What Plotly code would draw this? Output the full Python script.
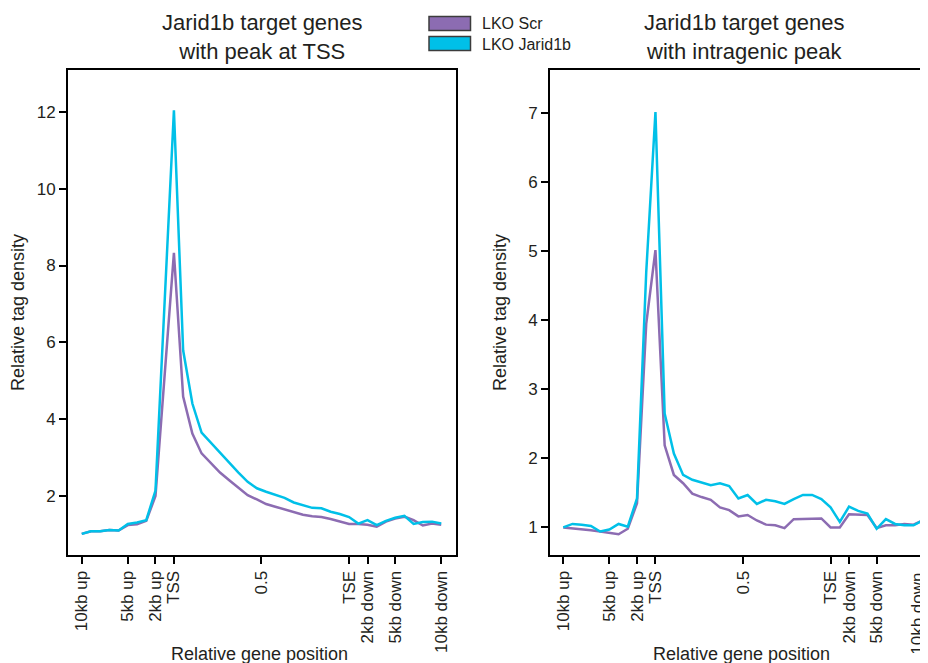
import plotly.graph_objects as go

# ---- data ----
positions = list(range(40))  # bins: 10 upstream, 20 gene body (TSS->TSE), 10 downstream
tick_pos = [0, 5, 8, 10, 19.5, 29, 31, 34, 39]
tick_text = ["10kb up", "5kb up", "2kb up", "TSS", "0.5", "TSE", "2kb down", "5kb down", "10kb down"]

left_scr = [1.00, 1.07, 1.07, 1.10, 1.09, 1.23, 1.25, 1.34, 1.99, 5.10,
            8.33, 4.58, 3.62, 3.10, 2.84, 2.60, 2.40, 2.20, 2.01, 1.90,
            1.78, 1.71, 1.64, 1.57, 1.50, 1.46, 1.44, 1.39, 1.33, 1.26,
            1.26, 1.24, 1.19, 1.32, 1.40, 1.45, 1.36, 1.22, 1.27, 1.24]
left_jarid = [1.00, 1.07, 1.07, 1.10, 1.09, 1.26, 1.30, 1.36, 2.13, 7.00,
              12.05, 5.79, 4.40, 3.64, 3.38, 3.12, 2.84, 2.60, 2.36, 2.19,
              2.10, 2.01, 1.94, 1.82, 1.74, 1.68, 1.67, 1.58, 1.52, 1.44,
              1.27, 1.36, 1.23, 1.34, 1.42, 1.47, 1.26, 1.31, 1.32, 1.27]
right_scr = [1.00, 0.99, 0.97, 0.96, 0.94, 0.92, 0.90, 0.98, 1.35, 3.95,
             5.02, 2.19, 1.76, 1.64, 1.49, 1.44, 1.40, 1.29, 1.25, 1.16,
             1.18, 1.10, 1.04, 1.03, 0.99, 1.12, 1.12, 1.13, 1.13, 1.00,
             1.00, 1.19, 1.19, 1.18, 0.99, 1.03, 1.03, 1.05, 1.04, 1.10]
right_jarid = [1.00, 1.05, 1.04, 1.02, 0.94, 0.97, 1.05, 1.01, 1.42, 4.70,
               7.02, 2.65, 2.07, 1.76, 1.69, 1.65, 1.61, 1.64, 1.60, 1.42,
               1.47, 1.34, 1.40, 1.38, 1.34, 1.41, 1.47, 1.47, 1.41, 1.29,
               1.08, 1.30, 1.24, 1.20, 0.98, 1.12, 1.05, 1.03, 1.03, 1.10]

series_names = ["LKO Scr", "LKO Jarid1b"]
titles = ["Jarid1b target genes<br>with peak at TSS",
          "Jarid1b target genes<br>with intragenic peak"]
y_title = "Relative tag density"
x_title = "Relative gene position"

PURPLE = "#8c6cb2"
CYAN = "#00c0e8"
TXT = "#231f20"
FONT = "Liberation Sans, Arial, sans-serif"

# page body has an 8px margin; figure sized to fit the 928x663 window
OFF = 8
W, H = 928 - OFF, 663 - OFF
def px(x): return (x - OFF) / W
def py(y): return 1 - (y - OFF) / H

fig = go.Figure()
fig.add_trace(go.Scatter(x=positions, y=left_scr, mode="lines", line=dict(color=PURPLE, width=2.5),
                         xaxis="x", yaxis="y", showlegend=False))
fig.add_trace(go.Scatter(x=positions, y=left_jarid, mode="lines", line=dict(color=CYAN, width=2.5),
                         xaxis="x", yaxis="y", showlegend=False))
fig.add_trace(go.Scatter(x=positions, y=right_scr, mode="lines", line=dict(color=PURPLE, width=2.5),
                         xaxis="x2", yaxis="y2", showlegend=False))
fig.add_trace(go.Scatter(x=positions, y=right_jarid, mode="lines", line=dict(color=CYAN, width=2.5),
                         xaxis="x2", yaxis="y2", showlegend=False))

common_x = dict(tickmode="array", tickvals=tick_pos, tickangle=-90,
                ticks="outside", ticklen=7, tickwidth=2, tickcolor="black",
                showline=True, linecolor="black", linewidth=2, showgrid=False, zeroline=False,
                tickfont=dict(family=FONT, size=17, color=TXT))
common_y = dict(ticks="outside", ticklen=7, tickwidth=2, tickcolor="black",
                showline=True, linecolor="black", linewidth=2, showgrid=False, zeroline=False,
                tickfont=dict(family=FONT, size=17, color=TXT))

# right panel: last label sits at the window edge, drawn separately so it is not dropped
right_ticktext = tick_text[:-1] + [""]

y_dom = [py(555), py(70)]
fig.update_layout(
    width=W, height=H, margin=dict(l=0, r=0, t=0, b=0),
    plot_bgcolor="white", paper_bgcolor="white", showlegend=False,
    xaxis=dict(domain=[px(68), px(456)], range=[-1.49, 40.6], mirror=True, anchor="y",
               ticktext=tick_text, **common_x),
    yaxis=dict(domain=y_dom, range=[0.45, 13.1], tickvals=[2, 4, 6, 8, 10, 12], mirror=True,
               anchor="x", **common_y),
    xaxis2=dict(domain=[px(550), 1.0], range=[-1.44, 39.57], mirror=True, anchor="y2",
                ticktext=right_ticktext, **common_x),
    yaxis2=dict(domain=y_dom, range=[0.6, 7.63], tickvals=[1, 2, 3, 4, 5, 6, 7], mirror=False,
                anchor="x2", **common_y),
)

ann = []
for cx, t in zip([262, 744], titles):
    ann.append(dict(text=t, x=px(cx), y=1.0, xref="paper", yref="paper", showarrow=False,
                    xanchor="center", yanchor="top", align="center",
                    font=dict(family=FONT, size=22, color=TXT)))
for cx in [18, 500]:
    ann.append(dict(text=y_title, x=px(cx), y=py(313), xref="paper", yref="paper", showarrow=False,
                    xanchor="center", yanchor="middle", textangle=-90,
                    font=dict(family=FONT, size=18, color=TXT)))
for cx in [260, 741]:
    ann.append(dict(text=x_title, x=px(cx), y=py(654), xref="paper", yref="paper", showarrow=False,
                    xanchor="center", yanchor="middle", font=dict(family=FONT, size=18, color=TXT)))
# last right-panel tick label, nudged just inside the window edge
ann.append(dict(text=tick_text[-1], x=tick_pos[-1], xref="x2", y=py(571), yref="paper",
                showarrow=False, xanchor="center", yanchor="top", textangle=-90, xshift=-6,
                font=dict(family=FONT, size=17, color=TXT)))

# legend
shapes = []
for i, (name, col) in enumerate(zip(series_names, [PURPLE, CYAN])):
    y0 = 16.5 + i * 20
    shapes.append(dict(type="rect", xref="paper", yref="paper", x0=px(429), x1=px(470.5),
                       y0=py(y0), y1=py(y0 + 14), fillcolor=col, line=dict(color="#3c3c3c", width=1.5)))
    ann.append(dict(text=name, x=px(480), y=py(y0 + 7.5), xref="paper", yref="paper", showarrow=False,
                    xanchor="left", yanchor="middle", font=dict(family=FONT, size=16, color=TXT)))

fig.update_layout(annotations=ann, shapes=shapes)
fig.write_html("out.html")
